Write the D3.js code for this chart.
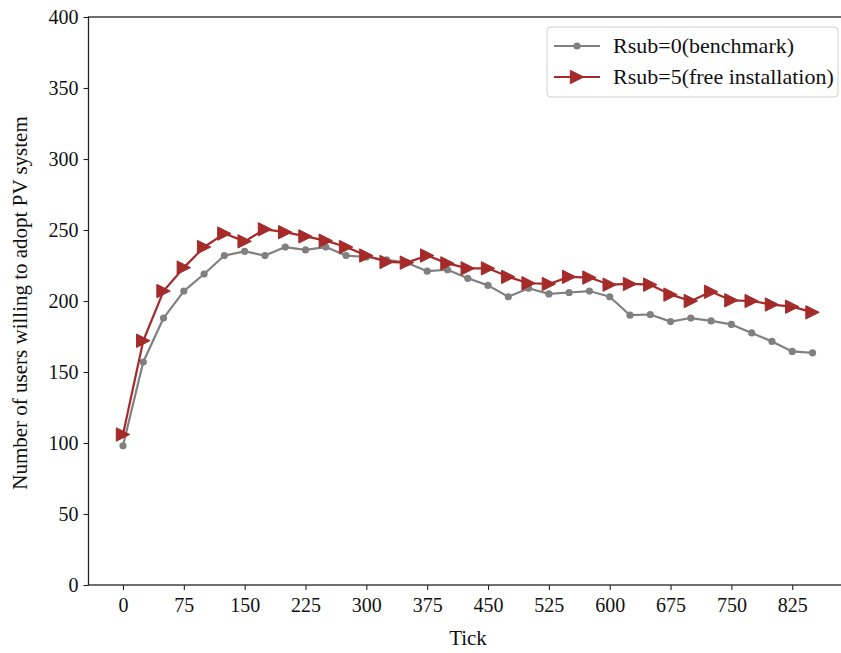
<!DOCTYPE html>
<html>
<head>
<meta charset="utf-8">
<script src="https://cdn.jsdelivr.net/npm/d3@7"></script>
<style>
  html, body { margin: 0; padding: 0; background: #fff; }
  svg { display: block; font-family: "Liberation Serif", "Times New Roman", serif; }
</style>
</head>
<body>
<svg id="chart" width="841" height="653"></svg>
<script>
const ticks = [0,25,50,75,100,125,150,175,200,225,250,275,300,325,350,375,400,425,450,475,500,525,550,575,600,625,650,675,700,725,750,775,800,825,850];
const benchmark = [98,157,188,207,219,232,235,232,238,236,238,232,231,229,227,221,222,216,211,203,209,205,206,207,203,190,190.5,185.5,188,186,183.5,177.5,171.5,164.5,163.5];
const freeInstall = [106,172,207,223.5,238,247.5,242,250.5,248.5,245.5,242.5,238,232,227.5,227,232,226.5,223,223,217,212.5,212,217,216.5,211.5,212,211.5,204.5,200,206.5,200.5,200,197.5,196,192];
const xTickValues = [0,75,150,225,300,375,450,525,600,675,750,825];
const yTickValues = [0,50,100,150,200,250,300,350,400];
const seriesNames = ["Rsub=0(benchmark)", "Rsub=5(free installation)"];
const colors = ["#808080", "#a52a2a"];

const svg = d3.select("#chart");
const pL = 88.5, pR = 847, pT = 17, pB = 585;

const x = d3.scaleLinear().domain([-42.5, 892.5]).range([pL, pR]);
const y = d3.scaleLinear().domain([0, 400]).range([pB, pT]);

// axes
const xAxis = svg.append("g").attr("transform", `translate(0,${pB})`)
  .call(d3.axisBottom(x).tickValues(xTickValues).tickSize(5).tickPadding(6).tickSizeOuter(0));
const yAxis = svg.append("g").attr("transform", `translate(${pL},0)`)
  .call(d3.axisLeft(y).tickValues(yTickValues).tickSize(5).tickPadding(5).tickSizeOuter(0));
[xAxis, yAxis].forEach(g => {
  g.select(".domain").remove();
  g.selectAll(".tick line").attr("stroke", "#222").attr("stroke-width", 1.1);
  g.selectAll(".tick text").attr("fill", "#111").style("font-size", "20px").style("font-family", "'Liberation Serif', serif");
});
xAxis.selectAll(".tick text").attr("dy", "0.8em");

// spines
svg.append("rect").attr("x", pL).attr("y", pT).attr("width", pR - pL).attr("height", pB - pT)
  .attr("fill", "none").attr("stroke", "#222").attr("stroke-width", 1.3);

// labels
svg.append("text").attr("x", 468).attr("y", 645).attr("text-anchor", "middle")
  .style("font-size", "21px").attr("fill", "#111").text("Tick");
svg.append("text").attr("transform", `translate(27,303) rotate(-90)`).attr("text-anchor", "middle")
  .style("font-size", "21px").attr("fill", "#111").text("Number of users willing to adopt PV system");

const line = d3.line().x((d, i) => x(ticks[i])).y(d => y(d));

// benchmark
svg.append("path").datum(benchmark).attr("d", line).attr("fill", "none")
  .attr("stroke", colors[0]).attr("stroke-width", 2.2).attr("stroke-linejoin", "round");
svg.append("g").selectAll("circle").data(benchmark).join("circle")
  .attr("cx", (d, i) => x(ticks[i])).attr("cy", d => y(d)).attr("r", 3.6).attr("fill", colors[0]);

// free installation
const tri = s => `M${s},0L${-s},${-s}L${-s},${s}Z`;
svg.append("path").datum(freeInstall).attr("d", line).attr("fill", "none")
  .attr("stroke", colors[1]).attr("stroke-width", 2.2).attr("stroke-linejoin", "round");
svg.append("g").selectAll("path").data(freeInstall).join("path")
  .attr("transform", (d, i) => `translate(${x(ticks[i])},${y(d)})`)
  .attr("d", tri(6.7)).attr("fill", colors[1]).attr("stroke", colors[1]).attr("stroke-width", 1).attr("stroke-linejoin", "miter");

// legend
const lg = svg.append("g");
lg.append("rect").attr("x", 547).attr("y", 27).attr("width", 291).attr("height", 70).attr("rx", 4)
  .attr("fill", "#fff").attr("fill-opacity", 0.8).attr("stroke", "#d0d0d0").attr("stroke-width", 1);
seriesNames.forEach((name, i) => {
  const yy = 46 + i * 31;
  lg.append("line").attr("x1", 554).attr("x2", 600).attr("y1", yy).attr("y2", yy)
    .attr("stroke", colors[i]).attr("stroke-width", 2.2);
  if (i === 0) {
    lg.append("circle").attr("cx", 577).attr("cy", yy).attr("r", 3.6).attr("fill", colors[0]);
  } else {
    lg.append("path").attr("transform", `translate(577,${yy})`).attr("d", tri(6.7)).attr("fill", colors[1]).attr("stroke", colors[1]);
  }
  lg.append("text").attr("x", 613).attr("y", yy + 7).style("font-size", "22px").attr("fill", "#111").text(name);
});
</script>
</body>
</html>
